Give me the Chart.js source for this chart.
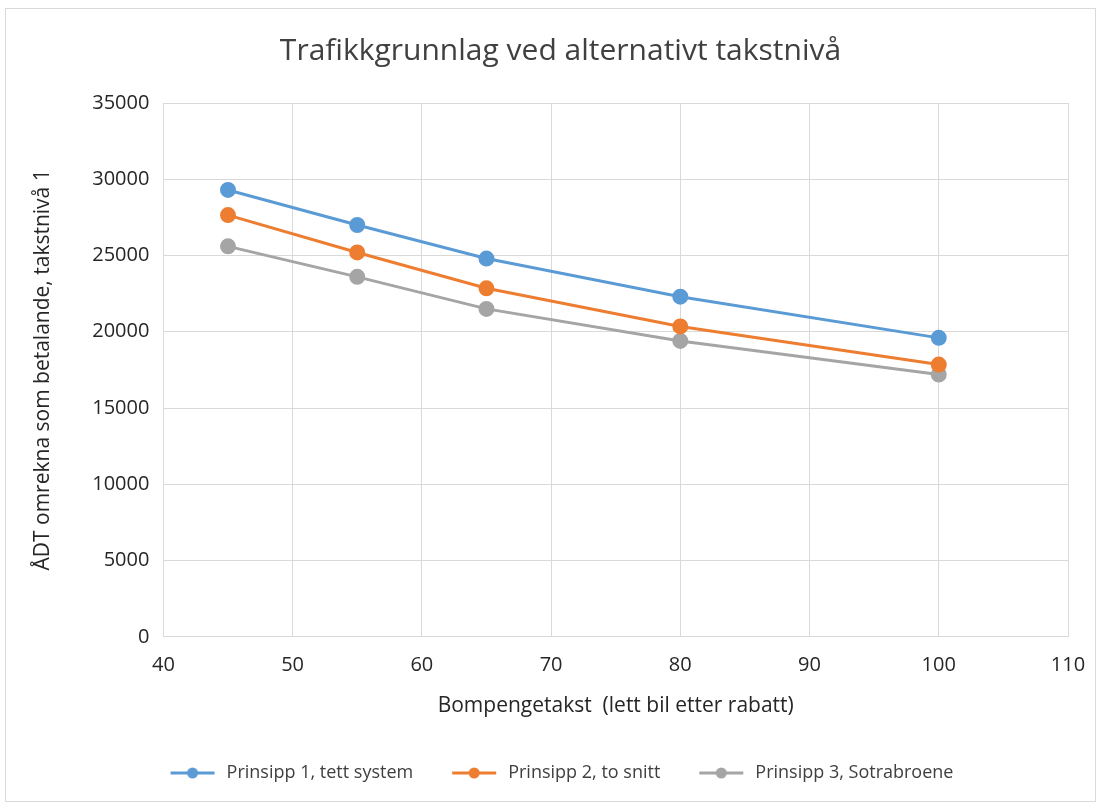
<!DOCTYPE html>
<html>
<head>
<meta charset="utf-8">
<script src="https://cdn.jsdelivr.net/npm/chart.js@4"></script>
<style>
  body { margin: 0; background: #fff; }
  #wrap { position: absolute; left: 5px; top: 8px; width: 1089px; height: 792px; border: 1px solid #d9d9d9; }
</style>
</head>
<body>
<div id="wrap"><canvas id="grafico" width="1089" height="792"></canvas></div>
<script>
// verdier lest av figuren
const takst = [45, 55, 65, 80, 100];
const prinsipp1 = [29300, 27000, 24800, 22300, 19600];
const prinsipp2 = [27650, 25200, 22850, 20350, 17850];
const prinsipp3 = [25600, 23600, 21500, 19400, 17200];
const serieNavn = ['Prinsipp 1, tett system', 'Prinsipp 2, to snitt', 'Prinsipp 3, Sotrabroene'];
const farger = ['#5b9bd5', '#ed7d31', '#a5a5a5'];

const font = "'Open Sans', sans-serif";
const tekst = '#262626';

function punkter(verdier) {
    return takst.map(function (x, i) { return { x: x, y: verdier[i] }; });
}

function legendIkon(farge) {
    const c = document.createElement('canvas');
    c.width = 46; c.height = 14;
    const g = c.getContext('2d');
    g.strokeStyle = farge; g.lineWidth = 3;
    g.beginPath(); g.moveTo(1, 7); g.lineTo(45, 7); g.stroke();
    g.fillStyle = farge;
    g.beginPath(); g.arc(23, 7, 5.5, 0, Math.PI * 2); g.fill();
    return c;
}

const datasets = [prinsipp1, prinsipp2, prinsipp3].map(function (v, i) {
    return {
        label: serieNavn[i],
        data: punkter(v),
        borderColor: farger[i],
        backgroundColor: farger[i],
        borderWidth: 3,
        pointRadius: 6.5,
        pointHoverRadius: 6.5,
        tension: 0
    };
});

const ctx = document.getElementById('grafico').getContext('2d');
new Chart(ctx, {
    type: 'line',
    data: { datasets: datasets },
    options: {
        responsive: false,
        animation: false,
        layout: { padding: { left: 20, right: 0, top: 6, bottom: 9 } },
        plugins: {
            title: {
                display: true,
                text: 'Trafikkgrunnlag ved alternativt takstnivå',
                color: '#404040',
                font: { family: font, size: 30, weight: 'normal' },
                padding: { top: 18, bottom: 34 }
            },
            legend: {
                position: 'bottom',
                labels: {
                    color: '#404040',
                    font: { family: font, size: 18 },
                    usePointStyle: true,
                    pointStyleWidth: 50,
                    padding: 36,
                    generateLabels: function (chart) {
                        return chart.data.datasets.map(function (ds, i) {
                            return {
                                text: ds.label,
                                fillStyle: ds.borderColor,
                                strokeStyle: ds.borderColor,
                                fontColor: '#404040',
                                pointStyle: legendIkon(ds.borderColor),
                                datasetIndex: i,
                                hidden: false
                            };
                        });
                    }
                }
            },
            tooltip: { enabled: false }
        },
        scales: {
            x: {
                type: 'linear',
                min: 40,
                max: 110,
                afterFit: function (scale) { scale.paddingRight = 27; },
                ticks: { stepSize: 10, color: tekst, font: { family: font, size: 20 }, padding: 16 },
                grid: { color: '#d9d9d9', drawTicks: false },
                border: { color: '#d9d9d9' },
                title: {
                    display: true,
                    text: 'Bompengetakst  (lett bil etter rabatt)',
                    color: tekst,
                    font: { family: font, size: 21 },
                    padding: { top: 1, bottom: 9 }
                }
            },
            y: {
                min: 0,
                max: 35000,
                ticks: {
                    stepSize: 5000, color: tekst, font: { family: font, size: 20 }, padding: 14,
                    callback: function (v) { return String(v); }
                },
                grid: { color: '#d9d9d9', drawTicks: false },
                border: { color: '#d9d9d9' },
                title: {
                    display: true,
                    text: 'ÅDT omrekna som betalande, takstnivå 1',
                    color: tekst,
                    font: { family: font, size: 21 },
                    padding: { bottom: 23 }
                }
            }
        }
    }
});
</script>
</body>
</html>
